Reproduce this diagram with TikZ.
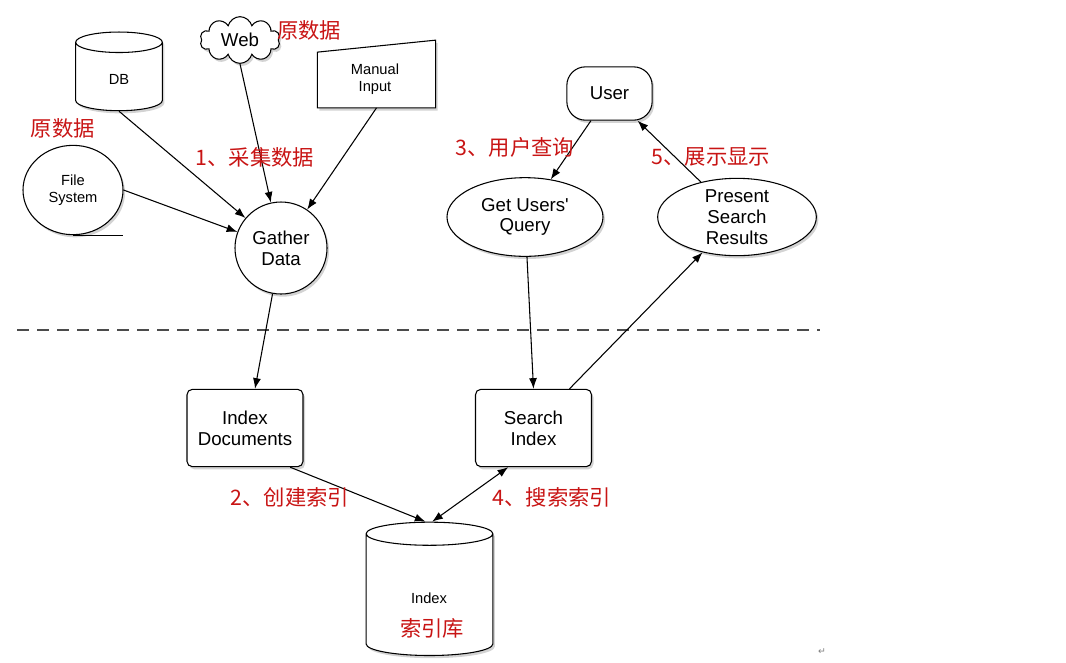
\documentclass[tikz,border=0pt]{standalone}
\usepackage{fontspec}
\setmainfont{Liberation Sans}
\newfontfamily\cjk{Noto Sans CJK SC}
\newfontfamily\symb{DejaVu Sans}
\usetikzlibrary{arrows.meta, shapes.geometric, shapes.symbols, shadows}
\definecolor{cnred}{RGB}{200,20,20}

\begin{document}
\begin{tikzpicture}[x=0.75pt, y=-0.75pt, line width=0.8pt,
    >={Latex[length=8pt,width=6pt]},
    shdw/.style={drop shadow={shadow xshift=1.5pt, shadow yshift=-2pt, opacity=0.35}},
    big/.style={font=\fontsize{14}{15.5}\selectfont, align=center},
    small/.style={font=\fontsize{11}{12.5}\selectfont, align=center},
    cn/.style={font=\cjk\fontsize{16}{16}\selectfont, text=cnred},
    box/.style={draw, fill=white, rounded corners=4pt, minimum width=87pt, minimum height=58pt, shdw, big},
    oval/.style={draw, fill=white, ellipse, inner sep=0pt, shdw, big},
    can/.style={draw, fill=white, cylinder, shape border rotate=90, aspect=0.7, shdw, small}]
    \useasboundingbox (0,0) rectangle (1066,662);

    % Les sources
    \node[can, minimum width=65pt, minimum height=59pt] (db) at (119,79) {DB};
    \node[draw, fill=white, cloud, cloud puffs=10, aspect=1.8, minimum width=60pt, minimum height=35pt, inner sep=0pt, shdw, big] (web) at (240,40) {Web};
    \node[minimum width=88pt, minimum height=50pt, inner sep=0pt] (manual) at (376.5,74) {};
    \draw[fill=white, shdw] (manual.south west) -- (manual.south east) -- (manual.north east) -- ([yshift=-9pt]manual.north west) -- cycle;
    \node[small] (manualtxt) at (375,79) {Manual\\Input};
    \node[oval, small, minimum width=75pt, minimum height=67pt] (fs) at (73,190) {File\\System};
    \draw (fs.south) -- ++(50,0);
    \node[oval, circle, minimum size=69pt] (gather) at (281,248) {Gather\\Data};

    % User side
    \node[box, rounded corners=14pt, minimum width=64pt, minimum height=40pt] (user) at (609.5,93.5) {User};
    \node[oval, minimum width=117pt, minimum height=59pt] (query) at (525,217) {Get Users\textquotesingle\\Query};
    \node[oval, inner sep=-3pt, minimum width=119pt, minimum height=58pt] (present) at (737,217) {Present\\Search\\Results};

    % La ligne pointillee
    \draw[dash pattern=on 9pt off 6pt, gray!60!black] (17,330) -- (820,330);

    % Index
    \node[box] (idxdoc) at (245,428) {Index\\Documents};
    \node[box] (search) at (533.5,428) {Search\\Index};
    \node[can, aspect=2.6, minimum width=95pt, minimum height=100pt] (idx) at (429.5,597) {};
    \node[small] (idxtxt) at (429,598) {Index};
    \node[cn] (idxcn) at (432,628) {索引库};

    % Les fleches
    \draw[->] (db.south) -- (gather);
    \draw[->] (web.south) -- (gather);
    \draw[->] (manual.south) -- (gather);
    \draw[->] (fs.east) -- (gather);
    \draw[->] (gather) -- ([xshift=7.5pt]idxdoc.north);
    \draw[->] ([xshift=-10pt]idxdoc.south east) -- ([xshift=-3pt]idx.north);
    \draw[<->] ([xshift=-19pt]search.south) -- ([xshift=2pt]idx.north);
    \draw[->] (user) -- (query);
    \draw[->] (query) -- (search.north);
    \draw[->] ([xshift=27pt]search.north) -- (present);
    \draw[->] (present) -- (user);

    % Les etiquettes
    \node[cn] (src1) at (309,30) {原数据};
    \node[cn] (src2) at (63,128) {原数据};
    \node[cn] (step1) at (255,157) {1、采集数据};
    \node[cn] (step2) at (290,497) {2、创建索引};
    \node[cn] (step3) at (515,147) {3、用户查询};
    \node[cn] (step4) at (552,497) {4、搜索索引};
    \node[cn] (step5) at (711,157) {5、展示显示};
    \node[font=\symb\fontsize{7}{7}\selectfont, text=gray] (mark) at (822,652) {↵};
\end{tikzpicture}
\end{document}
